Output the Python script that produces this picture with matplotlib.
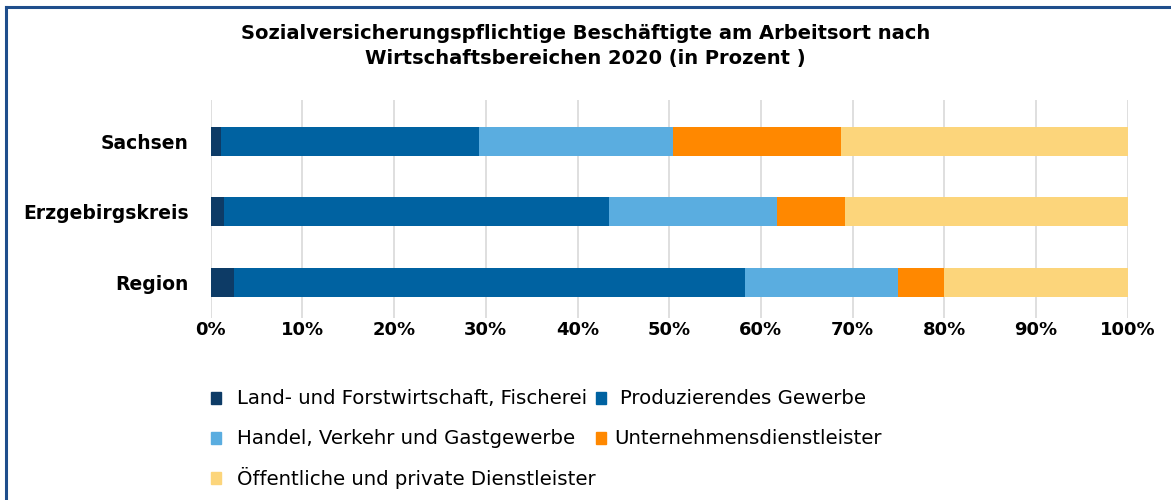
#!/usr/bin/env python3
"""Stacked horizontal bars: employment by economic sector 2020 (percent)."""

import matplotlib
matplotlib.use("Agg")
import matplotlib.pyplot as plt
import numpy as np
from matplotlib.lines import Line2D
from matplotlib.patches import Rectangle

regions = ["Region", "Erzgebirgskreis", "Sachsen"]
sectors = [
    "Land- und Forstwirtschaft, Fischerei",
    "Produzierendes Gewerbe",
    "Handel, Verkehr und Gastgewerbe",
    "Unternehmensdienstleister",
    "Öffentliche und private Dienstleister",
]
# shares per sector, order follows `regions`
land = [2.5, 1.4, 1.1]
produz = [55.8, 42.0, 28.2]
handel = [16.7, 18.3, 21.1]
untern = [5.0, 7.5, 18.3]
oeff = [20.0, 30.8, 31.3]
colors = ["#0d3b66", "#0062a1", "#5aade0", "#ff8800", "#fcd57b"]

x_ticks = list(range(0, 101, 10))

plt.rcParams["font.family"] = ["DejaVu Sans"]

W, H = 1171, 500
fig = plt.figure(figsize=(W / 100, H / 100), dpi=100)
ax = fig.add_axes([0.180, 0.364, 0.783, 0.436])

y = np.arange(len(regions))
left = np.zeros(len(regions))
for vals, col, name in zip([land, produz, handel, untern, oeff], colors, sectors):
    ax.barh(y, vals, left=left, height=0.41, color=col, label=name, zorder=3)
    left += np.array(vals)

ax.set_xlim(0, 100)
ax.set_ylim(-0.5, 2.58)
ax.set_xticks(x_ticks)
ax.set_xticklabels([f"{t}%" for t in x_ticks], fontsize=13, fontweight="bold")
ax.set_yticks(y)
ax.set_yticklabels(regions, fontsize=13.5, fontweight="bold")
ax.tick_params(axis="both", length=0)
ax.tick_params(axis="x", pad=2)
ax.tick_params(axis="y", pad=16)
ax.grid(axis="x", color="#d9d9d9", lw=1.2, zorder=0)
for s in ax.spines.values():
    s.set_visible(False)

fig.text(0.5, 1 - 46 / H, "Sozialversicherungspflichtige Beschäftigte am Arbeitsort nach\n"
         "Wirtschaftsbereichen 2020 (in Prozent )",
         ha="center", va="center", fontsize=14, fontweight="bold", linespacing=1.4)

# legend, laid out row by row like the original
slots = [(216, 237, 398), (601, 620, 398),
         (216, 237, 438), (601, 614, 438),
         (216, 237, 478)]
for (mx, tx, ty), name, col in zip(slots, sectors, colors):
    fig.add_artist(Rectangle(((mx - 5) / W, 1 - (ty + 6) / H), 10 / W, 12 / H,
                             color=col, transform=fig.transFigure))
    fig.text(tx / W, 1 - ty / H, name, ha="left", va="center", fontsize=14.2)

# frame lines (top/left)
fig.add_artist(Line2D([0.0055, 0.0055], [0, 0.986], color="#1f4e8c", lw=2.2, transform=fig.transFigure))
fig.add_artist(Line2D([0.0055, 1.0], [0.986, 0.986], color="#1f4e8c", lw=2.2, transform=fig.transFigure))

fig.savefig("out.png", dpi=100)
